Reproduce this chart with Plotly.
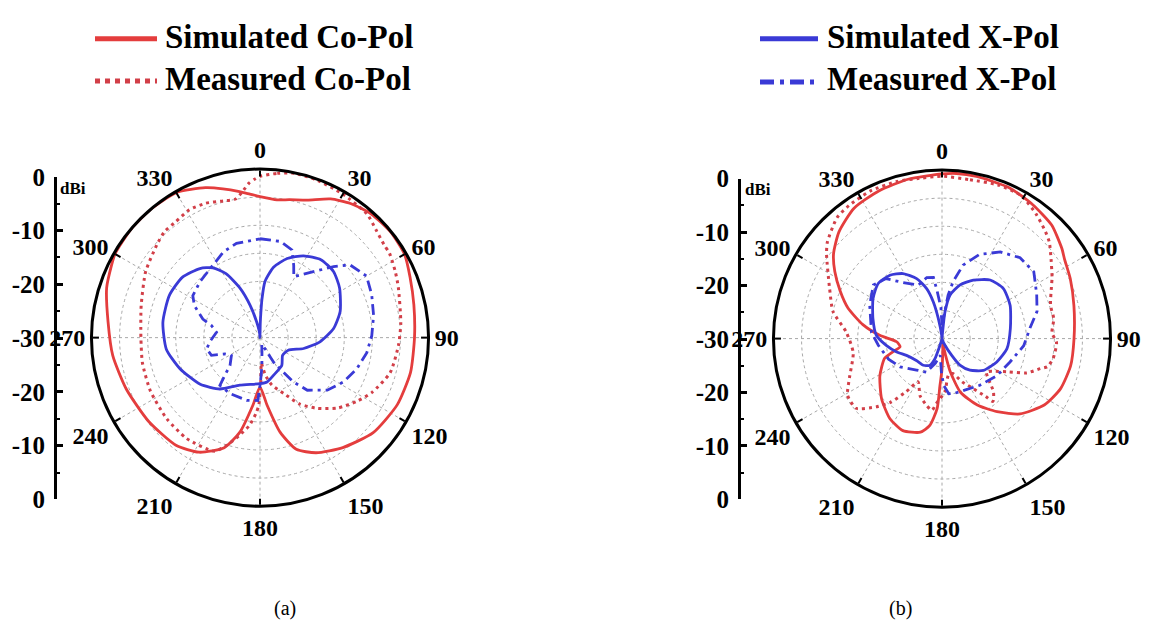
import plotly.graph_objects as go

W, H = 1149, 637

# ---------------- pattern (a): angle in degrees, gain in dBi ----------------
a_sim_co_theta = [0, 7, 12, 19, 27, 34, 42, 51, 60, 68, 78, 90, 103, 116, 130, 143, 154, 162, 168, 174,
                  180, 186, 192, 198, 208, 218, 233, 249, 263, 276, 288, 296, 300, 310, 320, 330, 340, 346, 352, 356]
a_sim_co_r = [-4.9, -5.3, -4.9, -4.1, -2.3, -1.2, -0.4, -0.1, -0.3, -1.2, -2.0, -2.5, -2.5, -2.8, -3.7, -5.5, -7.2, -9.1, -12.8, -17.9,
              -21.2, -17.9, -12.8, -9.4, -6.9, -5.7, -5.2, -4.5, -3.6, -2.8, -1.3, -0.6, -0.2, 0.0, 0.0, -0.2, -1.6, -2.7, -3.75, -4.4]

a_mea_co_theta = [0, 6, 12, 20, 30, 41, 47, 53, 57, 64, 70, 84, 93, 105, 116, 123, 132, 141, 149, 157,
                  166, 172, 175, 177, 179, 181, 183, 187, 192, 197, 202, 216, 229, 244, 258, 270, 285, 300, 312, 318,
                  324, 331, 338, 345, 350, 353, 356, 358]
a_mea_co_r = [-1.3, -0.6, -0.1, -0.2, -0.5, -0.9, -1.8, -2.4, -2.5, -3.2, -3.8, -4.8, -5.3, -6.0, -7.8, -9.3, -11.3, -13.8, -16.2, -19.2,
              -21.3, -23.3, -24.8, -25.5, -22.0, -18.0, -16.5, -14.2, -12.2, -10.0, -8.2, -7.8, -8.0, -8.3, -8.6, -8.8, -8.1, -6.5, -5.3, -4.6,
              -4.5, -4.0, -4.2, -4.8, -4.95, -3.9, -2.4, -1.8]

a_sim_x_theta = [0, 1, 2, 3, 5, 11, 19, 28, 38, 48, 58, 72, 83, 94, 104, 114, 128, 142, 160, 171,
                 180, 203, 218, 232, 249, 263, 279, 295, 308, 319, 326, 332, 338, 343, 348, 353, 357]
a_sim_x_r = [-30.0, -27.5, -25.5, -23.0, -20.0, -17.2, -15.1, -13.5, -12.4, -12.4, -13.3, -15.0, -16.8, -19.3, -22.0, -24.5, -24.9, -23.7, -22.9, -22.0,
             -21.8, -20.8, -18.4, -16.5, -14.7, -13.2, -12.5, -12.2, -12.5, -13.7, -15.0, -17.1, -20.5, -24.0, -27.1, -28.8, -29.6]

a_mea_x_theta = [0, 12, 20, 25, 29, 39, 46, 51, 60, 69, 79, 89, 98, 108, 118, 128, 138, 143, 146, 151,
                 156, 165, 172, 176, 178, 180, 182, 192, 208, 220, 223, 227, 238, 245, 250, 258, 265, 277, 284, 288,
                 296, 302, 313, 326, 337, 346]
a_mea_x_r = [-12.4, -12.5, -13.4, -15.8, -17.6, -14.9, -11.8, -9.4, -8.1, -8.7, -9.4, -10.1, -10.8, -11.9, -13.2, -14.8, -17.4, -20.1, -22.6, -25.0,
             -27.9, -28.8, -27.5, -25.1, -23.5, -21.5, -18.8, -18.6, -18.7, -18.9, -20.8, -22.7, -24.0, -23.1, -20.8, -20.3, -21.0, -22.2, -21.1, -19.3,
             -17.0, -15.9, -15.4, -14.7, -13.4, -12.7]

# ---------------- pattern (b) ----------------
b_sim_co_theta = [0, 5, 12, 24, 34, 44, 53, 57, 65, 76, 90, 102, 113, 123, 134, 143, 152, 161, 166, 168,
                  172, 176, 180, 182.5, 184, 188, 193, 203, 213, 225, 239, 251, 255, 259, 266, 273, 280, 288, 295, 302,
                  308, 316, 326, 337, 348]
b_sim_co_r = [-0.7, -0.5, -0.5, -0.6, -1.2, -1.9, -3.3, -4.0, -4.8, -5.8, -6.5, -6.6, -7.1, -8.3, -10.7, -13.7, -16.6, -19.9, -23.9, -27.0,
              -29.0, -28.0, -24.5, -21.6, -17.5, -14.4, -12.9, -12.2, -13.0, -14.8, -17.1, -19.2, -21.0, -22.4, -21.9, -18.9, -15.7, -12.4, -10.0, -7.5,
              -5.5, -3.6, -2.0, -1.4, -1.0]

b_mea_co_theta = [0, 10, 20, 29, 37, 44, 48, 54, 61, 64, 73, 80, 87, 92, 100, 105, 107, 112, 117, 122,
                  127, 136, 141, 143, 148, 155, 163, 170, 177, 185, 188, 193, 201, 209, 214, 219, 224, 231, 239, 247,
                  261, 274, 284, 294, 306, 310, 319, 325, 334, 344, 352]
b_mea_co_r = [-1.1, -1.3, -0.9, -0.9, -2.2, -3.5, -4.3, -6.0, -7.6, -8.3, -9.8, -9.8, -10.4, -9.6, -9.9, -10.6, -11.7, -13.7, -17.0, -19.0,
              -20.1, -16.8, -15.6, -17.1, -19.5, -21.5, -23.5, -23.4, -20.5, -18.4, -17.1, -17.8, -19.1, -21.2, -18.6, -15.4, -13.1, -10.3, -10.4, -12.1,
              -14.0, -12.9, -10.0, -8.1, -4.6, -3.35, -1.5, -1.1, -0.8, -0.9, -1.2]

b_sim_x_theta = [0, 5, 6.4, 10.5, 18.6, 28.2, 39.4, 50.8, 63.9, 81.6, 98.8, 113.1, 127.5, 138.5, 146, 150, 155.8, 165, 180, 190,
                 196.7, 199.3, 204.2, 215, 229.5, 244.7, 253.6, 263.1, 272.9, 286.2, 300.2, 310.8, 320.6, 329, 337.1, 342.9, 346.7, 349.6, 355]
b_sim_x_r = [-30.0, -29.0, -25.2, -22.1, -19.9, -18.2, -16.5, -15.9, -16.5, -17.7, -18.3, -19.4, -20.7, -22.5, -24.3, -26.6, -28.7, -29.8, -30.0, -29.8,
             -28.8, -26.2, -24.8, -24.2, -24.0, -23.0, -21.6, -20.0, -18.3, -17.2, -15.8, -15.0, -15.4, -16.5, -18.4, -20.7, -23.3, -26.4, -29.5]

b_mea_x_theta = [0, 8, 11, 16, 24, 34, 44, 54, 65, 74, 83, 95, 109, 124, 141, 158, 168, 173, 178, 181,
                 186, 195, 202, 205, 219, 236, 249, 264, 275, 295, 308, 317, 325, 336, 346, 352, 354, 358]
b_mea_x_r = [-27.6, -22.2, -19.7, -16.4, -13.6, -11.4, -10.0, -9.8, -11.4, -12.4, -14.2, -15.4, -17.2, -18.2, -19.3, -20.0, -20.0, -20.1, -21.7, -24.0,
             -27.0, -25.5, -24.2, -23.4, -22.8, -21.0, -19.8, -18.6, -17.4, -15.8, -14.5, -15.4, -17.8, -19.6, -18.8, -19.0, -21.3, -24.5]

angle_ticks = list(range(0, 360, 30))
angle_labels = [str(a) for a in angle_ticks]
dbi_tickvals = [-3, -2, -1, 0, 1, 2, 3]
dbi_ticktext = ["0", "-10", "-20", "-30", "-20", "-10", "0"]
ring_vals = [-25, -20, -15, -10, -5]

series_names = ["Simulated Co-Pol", "Measured Co-Pol", "Simulated X-Pol", "Measured X-Pol"]

RED = "#e43d3d"
RED_DOT = "#d23f48"
BLUE = "#3a3ad6"
SERIF = "Liberation Serif, Times New Roman, serif"

styles = [
    dict(color=RED, width=2.8, dash="solid", shape="spline"),
    dict(color=RED_DOT, width=3, dash="3px,4px", shape="spline"),
    dict(color=BLUE, width=2.8, dash="solid", shape="spline"),
    dict(color=BLUE, width=2.8, dash="11px,5px,3px,5px", shape="linear"),
]


def px_x(p):
    return p / W


def px_y(p):
    return 1 - p / H


def closed(theta, r):
    return list(theta) + [theta[0]], list(r) + [r[0]]


fig = go.Figure()

panels = [
    ("polar", [(a_sim_co_theta, a_sim_co_r), (a_mea_co_theta, a_mea_co_r),
               (a_sim_x_theta, a_sim_x_r), (a_mea_x_theta, a_mea_x_r)]),
    ("polar2", [(b_sim_co_theta, b_sim_co_r), (b_mea_co_theta, b_mea_co_r),
                (b_sim_x_theta, b_sim_x_r), (b_mea_x_theta, b_mea_x_r)]),
]
for sub, curves in panels:
    for name, (th, rr), st in zip(series_names, curves, styles):
        t2, r2 = closed(th, rr)
        line = dict(color=st["color"], width=st["width"], dash=st["dash"], shape=st["shape"])
        if st["shape"] == "spline":
            line["smoothing"] = 0.6
        fig.add_trace(go.Scatterpolar(
            theta=t2, r=r2, mode="lines", name=name, subplot=sub,
            line=line, showlegend=False, hoverinfo="skip"))

# placeholder traces so the stand-alone dBi scales are drawn
for xa, ya in [("x", "y"), ("x2", "y2")]:
    fig.add_trace(go.Scatter(x=[0], y=[0], xaxis=xa, yaxis=ya, mode="markers",
                             marker=dict(opacity=0), showlegend=False, hoverinfo="skip"))

tick_font = dict(family=SERIF, size=24, color="black", weight="bold")
dbi_font = dict(family=SERIF, size=25, color="black", weight="bold")


def polar_layout(cx, cy, R=176):
    return dict(
        domain=dict(x=[px_x(cx - R), px_x(cx + R)], y=[px_y(cy + R), px_y(cy - R)]),
        bgcolor="rgba(0,0,0,0)",
        radialaxis=dict(range=[-30, 0], tickmode="array", tickvals=ring_vals, showticklabels=False,
                        ticks="", showline=False, gridcolor="#a8a8a8", griddash="dot", gridwidth=1),
        angularaxis=dict(rotation=90, direction="clockwise", tickmode="array", tickvals=angle_ticks,
                         ticktext=angle_labels, showline=True, linecolor="black", linewidth=3,
                         ticks="inside", ticklen=6, tickwidth=2, tickcolor="black",
                         gridcolor="#a8a8a8", griddash="dot", gridwidth=1, tickfont=tick_font),
    )


def dbi_axis(top, bottom):
    return dict(domain=[px_y(bottom), px_y(top)], range=[-3, 3], tickmode="array",
                tickvals=dbi_tickvals, ticktext=dbi_ticktext, showline=True, linecolor="black",
                linewidth=3, ticks="inside", ticklen=6, tickwidth=2.5, tickcolor="black",
                minor=dict(tickmode="linear", tick0=0, dtick=0.5, ticks="inside", ticklen=3,
                           tickwidth=2, tickcolor="black", showgrid=False),
                showgrid=False, zeroline=False, tickfont=dbi_font, ticklabelstandoff=4)


shapes = []
annotations = []

# legend keys and labels
legend_rows = [
    (95, 157, 27, styles[0], series_names[0], 163, 25),
    (95, 157, 71, dict(color=RED_DOT, width=5, dash="5px,5px"), series_names[1], 163, 69),
    (760, 818, 27, dict(color=BLUE, width=5, dash="solid"), series_names[2], 825, 25),
    (760, 818, 72, dict(color=BLUE, width=5, dash="14px,6px,4px,6px"), series_names[3], 825, 69),
]
for x0, x1, yy, st, label, tx, ty in legend_rows:
    shapes.append(dict(type="line", xref="paper", yref="paper", x0=px_x(x0), x1=px_x(x1),
                       y0=px_y(yy), y1=px_y(yy),
                       line=dict(color=st["color"], width=5, dash=st["dash"])))
    annotations.append(dict(xref="paper", yref="paper", x=px_x(tx), y=px_y(ty), xanchor="left",
                            yanchor="middle", showarrow=False, text=label,
                            font=dict(family=SERIF, size=33, color="black", weight="bold")))

for lx, ly in [(58, 183), (743, 184)]:
    annotations.append(dict(xref="paper", yref="paper", x=px_x(lx), y=px_y(ly), xanchor="left",
                            yanchor="middle", showarrow=False, text="dBi",
                            font=dict(family=SERIF, size=17, color="black", weight="bold")))

for lbl, lx in [("(a)", 285), ("(b)", 900)]:
    annotations.append(dict(xref="paper", yref="paper", x=px_x(lx), y=px_y(622), xanchor="center",
                            yanchor="middle", showarrow=False, text=lbl,
                            font=dict(family=SERIF, size=20, color="black")))

fig.update_layout(
    width=W, height=H,
    margin=dict(l=0, r=0, t=0, b=0),
    paper_bgcolor="white", plot_bgcolor="rgba(0,0,0,0)",
    showlegend=False,
    polar=polar_layout(260, 339),
    polar2=polar_layout(942, 340),
    xaxis=dict(domain=[px_x(57), px_x(70)], range=[0, 1], visible=False),
    yaxis=dict(anchor="x", **dbi_axis(171, 508)),
    xaxis2=dict(domain=[px_x(741), px_x(754)], range=[0, 1], visible=False),
    yaxis2=dict(anchor="x2", **dbi_axis(173, 508)),
    shapes=shapes,
    annotations=annotations,
)

fig.write_html("out.html")
